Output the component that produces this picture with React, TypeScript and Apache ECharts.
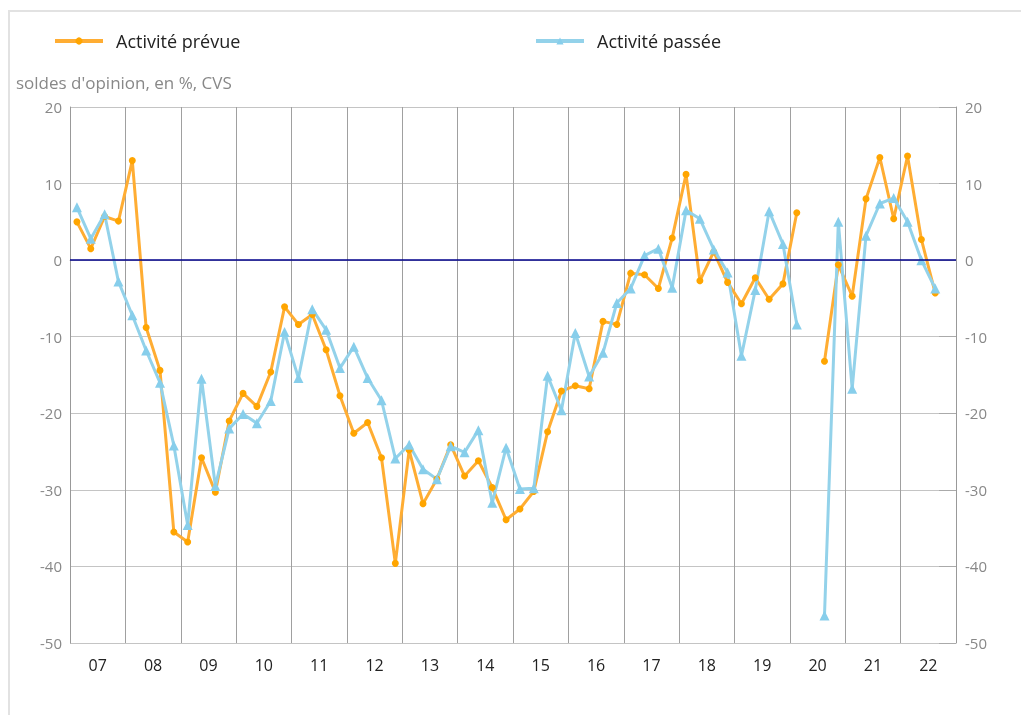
import React, { useEffect, useRef } from "react";
import * as echarts from "echarts";

const years = ["07", "08", "09", "10", "11", "12", "13", "14", "15", "16", "17", "18", "19", "20", "21", "22"];
const quarters = years.flatMap((y) => ["T1", "T2", "T3", "T4"].map((q) => `20${y}${q}`));

const prevue = [
  5.0, 1.5, 5.7, 5.1,
  13.0, -8.8, -14.4, -35.5,
  -36.8, -25.8, -30.3, -21.0,
  -17.4, -19.1, -14.6, -6.1,
  -8.4, -7.1, -11.7, -17.7,
  -22.6, -21.2, -25.8, -39.6,
  -24.8, -31.8, -28.6, -24.1,
  -28.2, -26.2, -29.7, -33.9,
  -32.5, -30.2, -22.4, -17.1,
  -16.4, -16.8, -8.0, -8.4,
  -1.7, -1.9, -3.7, 2.9,
  11.2, -2.7, 1.1, -2.9,
  -5.7, -2.3, -5.1, -3.1,
  6.2, null, -13.2, -0.6,
  -4.7, 8.0, 13.4, 5.4,
  13.6, 2.7, -4.3, null,
];

const passee = [
  6.9, 2.8, 6.0, -2.8,
  -7.2, -11.8, -16.0, -24.2,
  -34.6, -15.5, -29.5, -22.0,
  -20.1, -21.3, -18.4, -9.4,
  -15.4, -6.4, -9.1, -14.1,
  -11.3, -15.4, -18.3, -25.9,
  -24.1, -27.3, -28.6, -24.3,
  -25.1, -22.2, -31.7, -24.5,
  -29.9, -29.8, -15.1, -19.6,
  -9.5, -15.2, -12.1, -5.6,
  -3.7, 0.6, 1.5, -3.6,
  6.5, 5.4, 1.4, -1.6,
  -12.5, -3.9, 6.4, 2.1,
  -8.4, null, -46.4, 5.0,
  -16.8, 3.2, 7.4, 8.1,
  5.0, 0.0, -3.7, null,
];

const yMin = -50;
const yMax = 20;
const yStep = 10;

const FONT = "'Open Sans', 'Noto Sans', sans-serif";

export default function App() {
  const ref = useRef<HTMLDivElement>(null);

  useEffect(() => {
    if (!ref.current) return;
    const chart = echarts.init(ref.current, null, { renderer: "svg" });
    const legendText = { fontSize: 18, color: "#222", fontFamily: FONT, padding: [0, 0, 0, 8] };
    const option: any = {
      animation: false,
      textStyle: { fontFamily: FONT },
      grid: { left: 70, right: 65, top: 107, bottom: 72, containLabel: false },
      legend: [
        {
          data: ["Activité prévue"],
          left: 48,
          top: 27,
          itemWidth: 48,
          itemHeight: 9,
          lineStyle: { width: 4 },
          textStyle: legendText,
        },
        {
          data: ["Activité passée"],
          left: 529,
          top: 27,
          itemWidth: 48,
          itemHeight: 9,
          lineStyle: { width: 4 },
          textStyle: legendText,
        },
      ],
      graphic: [
        {
          type: "rect",
          silent: true,
          shape: { x: 9, y: 11, width: 1100, height: 800 },
          style: { fill: "none", stroke: "#e2e2e2", lineWidth: 2 },
        },
        {
          type: "text",
          left: 16,
          top: 74,
          silent: true,
          style: { text: "soldes d'opinion, en %, CVS", fontSize: 17, fill: "#888", fontFamily: FONT },
        },
      ],
      xAxis: [
        { type: "category", data: quarters, show: false, boundaryGap: true },
        {
          type: "category",
          data: years,
          position: "bottom",
          boundaryGap: true,
          axisLine: { show: true, lineStyle: { color: "#c4c4c4" } },
          axisTick: { show: true, interval: 0, length: 32, lineStyle: { color: "#9e9e9e" } },
          axisLabel: { interval: 0, color: "#222", fontSize: 16, margin: 14, fontFamily: FONT },
          splitLine: { show: true, interval: 0, lineStyle: { color: "#a0a0a0" } },
        },
      ],
      yAxis: [
        {
          type: "value",
          min: yMin,
          max: yMax,
          interval: yStep,
          position: "left",
          axisLine: { show: true, lineStyle: { color: "#999" } },
          axisTick: { show: false },
          axisLabel: { color: "#888", fontSize: 15, margin: 8, fontFamily: FONT },
          splitLine: { show: true, lineStyle: { color: "#c4c4c4" } },
        },
        {
          type: "value",
          min: yMin,
          max: yMax,
          interval: yStep,
          position: "right",
          axisLine: { show: true, lineStyle: { color: "#999" } },
          axisTick: { show: true, inside: true, length: 17, lineStyle: { color: "#aaa" } },
          axisLabel: { color: "#888", fontSize: 15, margin: 9, fontFamily: FONT },
          splitLine: { show: false },
        },
      ],
      series: [
        {
          name: "Activité prévue",
          type: "line",
          data: prevue,
          xAxisIndex: 0,
          yAxisIndex: 0,
          symbol: "circle",
          symbolSize: 7,
          showAllSymbol: true,
          connectNulls: false,
          lineStyle: { color: "#FFAD33", width: 3 },
          itemStyle: { color: "#FFA500" },
          markLine: {
            silent: true,
            symbol: ["none", "none"],
            label: { show: false },
            lineStyle: { color: "#00008B", width: 1.5, type: "solid" },
            data: [{ yAxis: 0 }],
          },
        },
        {
          name: "Activité passée",
          type: "line",
          data: passee,
          xAxisIndex: 0,
          yAxisIndex: 0,
          symbol: "triangle",
          symbolSize: 10,
          showAllSymbol: true,
          connectNulls: false,
          lineStyle: { color: "#93D2EA", width: 3 },
          itemStyle: { color: "#87CEEB" },
        },
      ],
    };
    chart.setOption(option);
    return () => chart.dispose();
  }, []);

  return <div ref={ref} style={{ position: "fixed", left: 0, top: 0, width: 1021, height: 715 }} />;
}
